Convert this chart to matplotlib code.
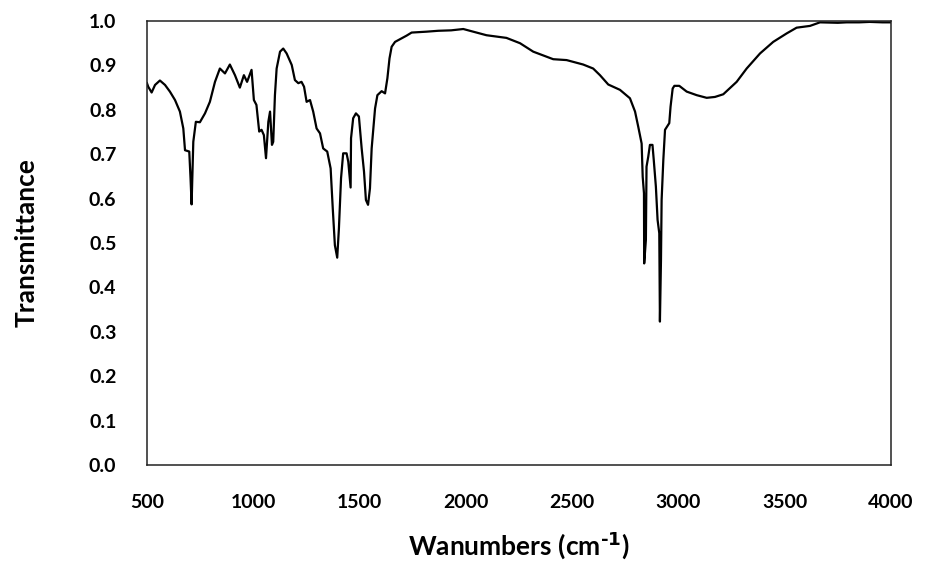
import matplotlib.pyplot as plt

plt.rcParams['font.family'] = ['Lato', 'DejaVu Sans']
plt.rcParams['font.weight'] = 'bold'
plt.rcParams['mathtext.default'] = 'regular'

# FTIR spectrum
wavenumber = [500, 506, 522, 538, 561, 585, 608, 632, 655, 671, 679, 699, 705, 710, 718, 730,
              749, 773, 796, 820, 843, 867, 890, 914, 937, 956, 971, 992, 1003, 1015, 1028,
              1039, 1050, 1060, 1071, 1079, 1088, 1094, 1102, 1110, 1126, 1141, 1157, 1181,
              1196, 1212, 1227, 1239, 1251, 1267, 1282, 1298, 1314, 1329, 1348, 1364, 1374,
              1384, 1395, 1403, 1413, 1423, 1439, 1447, 1458, 1460, 1470, 1483, 1497, 1510,
              1521, 1530, 1540, 1549, 1557, 1573, 1584, 1604, 1620, 1631, 1641, 1651, 1667,
              1690, 1721, 1745, 1815, 1870, 1931, 1988, 2035, 2097, 2191, 2255, 2317, 2411,
              2474, 2552, 2599, 2631, 2670, 2725, 2772, 2796, 2811, 2827, 2832, 2838, 2839,
              2847, 2850, 2858, 2866, 2878, 2884, 2894, 2902, 2910, 2913, 2918, 2921, 2929,
              2937, 2957, 2963, 2973, 2981, 3004, 3039, 3086, 3133, 3172, 3211, 3274, 3321,
              3384, 3446, 3509, 3556, 3619, 3666, 3750, 3791, 3850, 3900, 3960, 4000]
transmittance = [0.860, 0.852, 0.839, 0.856, 0.866, 0.856, 0.841, 0.822, 0.796, 0.758, 0.709,
                 0.706, 0.646, 0.587, 0.728, 0.773, 0.772, 0.792, 0.818, 0.863, 0.893, 0.882,
                 0.902, 0.878, 0.850, 0.878, 0.863, 0.890, 0.822, 0.811, 0.751, 0.755, 0.743,
                 0.691, 0.773, 0.796, 0.721, 0.728, 0.833, 0.893, 0.931, 0.938, 0.927, 0.901,
                 0.867, 0.860, 0.863, 0.852, 0.818, 0.822, 0.796, 0.758, 0.747, 0.713, 0.706,
                 0.668, 0.578, 0.495, 0.467, 0.533, 0.646, 0.702, 0.702, 0.683, 0.625, 0.736,
                 0.781, 0.792, 0.785, 0.713, 0.661, 0.597, 0.586, 0.623, 0.713, 0.803, 0.833,
                 0.842, 0.837, 0.871, 0.916, 0.942, 0.953, 0.959, 0.967, 0.974, 0.976, 0.978,
                 0.979, 0.982, 0.976, 0.968, 0.962, 0.950, 0.931, 0.914, 0.912, 0.902, 0.893,
                 0.878, 0.857, 0.845, 0.826, 0.796, 0.762, 0.724, 0.649, 0.612, 0.454, 0.507,
                 0.672, 0.694, 0.721, 0.721, 0.687, 0.627, 0.552, 0.522, 0.323, 0.462, 0.597,
                 0.687, 0.755, 0.770, 0.807, 0.848, 0.854, 0.854, 0.841, 0.833, 0.827, 0.829,
                 0.835, 0.863, 0.893, 0.927, 0.953, 0.972, 0.985, 0.989, 0.997, 0.996, 0.997,
                 0.997, 0.998, 0.997, 0.997]

x_ticks = [500, 1000, 1500, 2000, 2500, 3000, 3500, 4000]
y_ticks = [0.0, 0.1, 0.2, 0.3, 0.4, 0.5, 0.6, 0.7, 0.8, 0.9, 1.0]

fig = plt.figure(figsize=(9.26, 5.65), dpi=100)
ax = fig.add_axes([0.1587, 0.177, 0.8035, 0.7858])

ax.plot(wavenumber, transmittance, color='black', lw=1.6)

ax.set_xlim(500, 4000)
ax.set_ylim(0, 1.0)
ax.set_xticks(x_ticks)
ax.set_yticks(y_ticks)
ax.set_yticklabels(['{:.1f}'.format(v) for v in y_ticks])
ax.tick_params(axis='x', length=0, pad=21, labelsize=14)
ax.tick_params(axis='y', length=0, pad=22, labelsize=14)
for spine in ax.spines.values():
    spine.set_linewidth(1.1)
    spine.set_color('#222222')

ax.set_xlabel(r'Wanumbers (cm$^{\text{-1}}$)', fontsize=19, fontweight='bold', labelpad=14)
ax.set_ylabel('Transmittance', fontsize=19, fontweight='bold', labelpad=36)

fig.savefig('out.png', dpi=100)
